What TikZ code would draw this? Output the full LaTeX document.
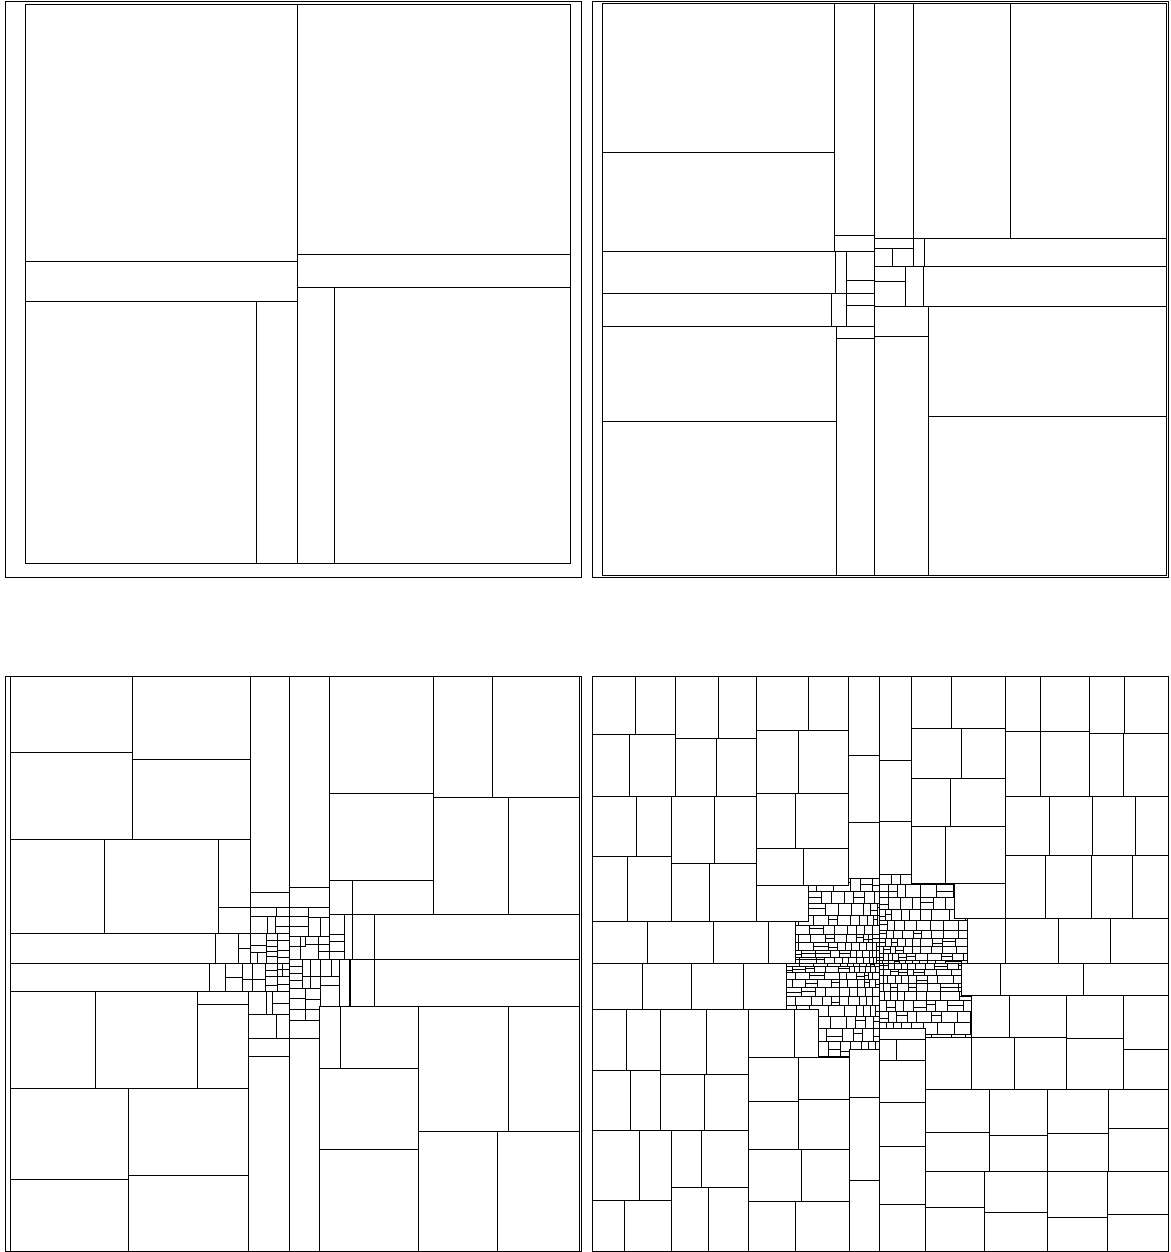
\documentclass[tikz,border=0pt]{standalone}
\newcommand{\gridrows}[3]{%
  \foreach \ya/\yb in {#3} {%
    \pgfmathsetmacro{\dy}{abs(0.5*(\ya+\yb)-790)}%
    \draw (#1,\ya) -- (#2,\ya);%
    \def\xx{#1}%
    \loop
      \pgfmathsetmacro{\ww}{(9+0.14*abs(\xx-775)+0.055*\dy)*(0.7+0.6*rnd)}%
      \pgfmathsetmacro{\xn}{((#2)-\xx-\ww<6)?(#2):(\xx+\ww)}%
      \pgfmathsetmacro{\spl}{rnd}%
      \ifdim\spl pt<0.28pt
        \pgfmathsetmacro{\ym}{\ya+(\yb-\ya)*(0.35+0.3*rnd)}%
        \draw (\xx,\ym) -- (\xn,\ym);%
      \fi
      \draw (\xn,\ya) -- (\xn,\yb);%
      \let\xx\xn
    \ifdim\xx pt<#2pt
    \repeat
  }}
\begin{document}
\begin{tikzpicture}[x=1pt,y=-1pt,line width=1pt]
\useasboundingbox (0,0) rectangle (1170,1252);
\fill[white] (0,0) rectangle (1170,1252);
% ---------------- top-left panel ----------------
\draw (5,1.5) rectangle (581,577);
\draw (25,4.5) rectangle (570,563);
\draw (297.7,4.5) -- (297.7,563);
\draw (25,261.5) -- (297.7,261.5);
\draw (25,301.8) -- (297.7,301.8);
\draw (256.4,301.8) -- (256.4,563);
\draw (297.7,254) -- (570,254);
\draw (297.7,287.9) -- (570,287.9);
\draw (334.5,287.9) -- (334.5,563);
% ---------------- top-right panel ----------------
\draw (592,2) rectangle (1168,577);
\draw (602,4) rectangle (1166,575);
\draw (834.1,4) -- (834.1,251.4);
\draw (874.8,4) -- (874.8,575);
\draw (913.3,4) -- (913.3,266.4);
\draw (1010.6,4) -- (1010.6,238.2);
\draw (835,251.4) -- (835,293.5);
\draw (846.5,251.4) -- (846.5,293.5);
\draw (831.6,293.5) -- (831.6,326.3);
\draw (846.7,293.5) -- (846.7,326.3);
\draw (836.2,326.3) -- (836.2,575);
\draw (892.7,248.4) -- (892.7,266.4);
\draw (924.9,238.2) -- (924.9,266.4);
\draw (905.1,266.4) -- (905.1,306.8);
\draw (923.1,266.4) -- (923.1,306.8);
\draw (928.4,306.8) -- (928.4,575);
\draw (602,152.4) -- (834.1,152.4);
\draw (602,251.4) -- (874.8,251.4);
\draw (602,293.5) -- (874.8,293.5);
\draw (602,326.3) -- (874.8,326.3);
\draw (602,421.8) -- (836.2,421.8);
\draw (834.1,235.1) -- (874.8,235.1);
\draw (846.5,280.2) -- (874.8,280.2);
\draw (846.7,305.3) -- (874.8,305.3);
\draw (836.2,338) -- (874.8,338);
\draw (874.8,238.2) -- (1166,238.2);
\draw (874.8,248.4) -- (913.3,248.4);
\draw (874.8,266.4) -- (1166,266.4);
\draw (874.8,281.2) -- (905.1,281.2);
\draw (874.8,306.8) -- (1166,306.8);
\draw (874.8,336.5) -- (928.4,336.5);
\draw (928.4,416.6) -- (1166,416.6);
% ---------------- bottom-left panel ----------------
\draw (5,676) rectangle (581,1251);
\draw (10.3,676) -- (10.3,1251);
\draw (579.5,676) -- (579.5,1251);
\begin{scope}[shift={(0,665)},xscale=0.3763,yscale=0.3744]
\draw (27,233) -- (352,233);
\draw (352,252) -- (664,252);
\draw (352,30) -- (352,467);
\draw (27,467) -- (664,467);
\draw (664.5,30) -- (664.5,548);
\draw (768,30) -- (768,1564);
\draw (875,30) -- (875,667);
\draw (1153,30) -- (1153,667);
\draw (875,342) -- (1153,342);
\draw (875,575) -- (1153,575);
\draw (937,575) -- (937,667);
\draw (1308,30) -- (1308,353);
\draw (1153,353) -- (1540,353);
\draw (1352,353) -- (1352,667);
\draw (875,667) -- (1540,667);
\draw (278,467) -- (278,717);
\draw (580,467) -- (580,560);
\draw (27,717) -- (664,717);
\draw (27,797) -- (505,797);
\draw (27,873) -- (505,873);
\draw (994,667) -- (994,911);
\draw (930,787) -- (1540,787);
\draw (930,787) -- (930,911);
\draw (850,911) -- (1540,911);
\draw (253,873) -- (253,1130);
\draw (524,873) -- (524,1130);
\draw (524,907) -- (660,907);
\draw (660,873) -- (660,1564);
\draw (27,1130) -- (660,1130);
\draw (342,1130) -- (342,1564);
\draw (27,1373) -- (342,1373);
\draw (342,1363) -- (660,1363);
\draw (850,911) -- (850,1564);
\draw (906,911) -- (906,1078);
\draw (850,1078) -- (1113,1078);
\draw (1113,911) -- (1113,1564);
\draw (850,1295) -- (1113,1295);
\draw (1352,911) -- (1352,1247);
\draw (1113,1247) -- (1540,1247);
\draw (1323,1247) -- (1323,1564);
\end{scope}
\begin{scope}[shift={(190,870)},xscale=0.33333,yscale=0.33333,line width=0.9pt]
\draw (85,0) -- (85,190);
\draw (180,0) -- (180,280);
\draw (85,112) -- (180,112);
\draw (180,68) -- (297,68);
\draw (180,112) -- (297,112);
\draw (180,140) -- (297,140);
\draw (260,112) -- (260,140);
\draw (232,140) -- (232,190);
\draw (255,140) -- (255,190);
\draw (255,168) -- (297,168);
\draw (145,190) -- (297,190);
\draw (75,190) -- (75,280);
\draw (145,190) -- (145,280);
\draw (145,235) -- (180,235);
\draw (180,225) -- (228,225);
\draw (180,248) -- (228,248);
\draw (203,248) -- (203,280);
\draw (228,190) -- (228,280);
\draw (262,190) -- (262,280);
\draw (228,212) -- (262,212);
\draw (228,228) -- (262,228);
\draw (228,243) -- (262,243);
\draw (228,258) -- (262,258);
\draw (262,212) -- (297,212);
\draw (262,240) -- (297,240);
\draw (262,262) -- (297,262);
\draw (0,280) -- (297,280);
\foreach \xv in {57,105,157,187,225,262} {\draw (\xv,280) -- (\xv,365);}
\draw (105,323) -- (157,323);
\draw (157,328) -- (187,328);
\draw (187,327) -- (225,327);
\draw (225,300) -- (262,300);
\draw (225,320) -- (262,320);
\draw (225,345) -- (262,345);
\draw (262,297) -- (297,297);
\draw (262,320) -- (297,320);
\draw (262,343) -- (297,343);
\draw (277,280) -- (277,320);
\draw (0,365) -- (297,365);
\draw (297,53) -- (418,53);
\draw (297,113) -- (418,113);
\draw (355,113) -- (355,200);
\draw (297,140) -- (355,140);
\draw (355,143) -- (418,143);
\draw (390,143) -- (390,200);
\draw (297,168) -- (355,168);
\draw (297,200) -- (418,200);
\draw (330,200) -- (330,268);
\draw (347,200) -- (347,230);
\draw (297,230) -- (347,230);
\draw (385,200) -- (385,268);
\draw (347,222) -- (418,222);
\draw (385,245) -- (418,245);
\draw (297,268) -- (600,268);
\draw (297,290) -- (337,290);
\draw (297,310) -- (337,310);
\draw (297,332) -- (337,332);
\draw (337,268) -- (337,355);
\draw (360,268) -- (360,355);
\draw (390,268) -- (390,410);
\draw (425,268) -- (425,318);
\draw (447,268) -- (447,410);
\draw (337,318) -- (447,318);
\draw (297,355) -- (390,355);
\draw (390,345) -- (447,345);
\draw (480,268) -- (480,410);
\draw (345,355) -- (345,452);
\draw (297,385) -- (345,385);
\draw (345,388) -- (390,388);
\draw (297,418) -- (390,418);
\draw (297,452) -- (390,452);
\draw (297,505) -- (390,505);
\draw (390,410) -- (600,410);
\draw (418,134) -- (418,268);
\draw (463,134) -- (463,268);
\draw (488,134) -- (488,268);
\draw (418,193) -- (463,193);
\draw (418,213) -- (463,213);
\draw (418,243) -- (463,243);
\draw (228,365) -- (228,432);
\draw (247,365) -- (247,432);
\draw (247,400) -- (297,400);
\draw (175,432) -- (297,432);
\draw (260,432) -- (260,505);
\draw (175,505) -- (297,505);
\draw (175,560) -- (297,560);
\end{scope}
% ---------------- bottom-right panel ----------------
\draw (592,676) rectangle (1168,1251);
\begin{scope}[shift={(585,665)},xscale=0.3731,yscale=0.3744]
\begin{scope}[line width=0.85pt]
\clip (565,685) -- (600,685) -- (600,590) -- (705,590) -- (705,570) -- (790,570) -- (790,560) -- (875,560) -- (875,583) -- (990,583) -- (990,678) -- (1025,678) -- (1025,796) -- (1010,796) -- (1010,882) -- (1035,882) -- (1035,995) -- (912,995) -- (912,972) -- (790,972) -- (790,1028) -- (708,1028) -- (708,1047) -- (625,1047) -- (625,920) -- (540,920) -- (540,796) -- (565,796) -- cycle;
\pgfmathsetseed{4242}
\gridrows{520}{790}{524/566,566/604,604/638,638/668,668/696,696/720,720/742,742/762,762/780,780/796}
\gridrows{790}{1045}{545/585,585/621,621/653,653/682,682/708,708/731,731/752,752/771,771/788,788/796}
\gridrows{520}{790}{796/804,804/821,821/840,840/861,861/884,884/910,910/938,938/970,970/1006,1006/1046,1046/1090}
\gridrows{790}{1045}{796/812,812/830,830/850,850/872,872/896,896/924,924/954,954/988,988/1026,1026/1068}
\end{scope}
\draw (565,685) -- (600,685) -- (600,590) -- (705,590) -- (705,570) -- (790,570) -- (790,560) -- (875,560) -- (875,583) -- (990,583) -- (990,678) -- (1025,678) -- (1025,796) -- (1010,796) -- (1010,882) -- (1035,882) -- (1035,995) -- (912,995) -- (912,972) -- (790,972) -- (790,1028) -- (708,1028) -- (708,1047) -- (625,1047) -- (625,920) -- (540,920) -- (540,796) -- (565,796) -- cycle;
% top-left block
\draw (135,30) -- (135,185);
\draw (243,30) -- (243,350);
\draw (357,30) -- (357,195);
\draw (20,185) -- (243,185);
\draw (243,195) -- (460,195);
\draw (120,185) -- (120,350);
\draw (352,195) -- (352,350);
\draw (20,350) -- (460,350);
\draw (138,350) -- (138,512);
\draw (232,350) -- (232,685);
\draw (347,350) -- (347,530);
\draw (20,512) -- (232,512);
\draw (232,530) -- (460,530);
\draw (115,512) -- (115,685);
\draw (333,530) -- (333,685);
\draw (20,685) -- (565,685);
\draw (460,30) -- (460,685);
% column 460-705
\draw (599,30) -- (599,175);
\draw (460,175) -- (705,175);
\draw (572,175) -- (572,342);
\draw (460,342) -- (705,342);
\draw (563,342) -- (563,490);
\draw (460,490) -- (705,490);
\draw (585,490) -- (585,590);
\draw (460,590) -- (705,590);
\draw (705,30) -- (705,570);
% column 705-790
\draw (705,243) -- (790,243);
\draw (705,420) -- (790,420);
\draw (790,30) -- (790,1564);
% column 790-875
\draw (790,255) -- (875,255);
\draw (790,418) -- (875,418);
\draw (875,30) -- (875,583);
% block 875-1127
\draw (983,30) -- (983,170);
\draw (875,170) -- (1127,170);
\draw (1008,170) -- (1008,302);
\draw (875,302) -- (1127,302);
\draw (980,302) -- (980,430);
\draw (875,430) -- (1127,430);
\draw (965,430) -- (965,583);
\draw (875,583) -- (1127,583);
\draw (1127,30) -- (1127,796);
% block 1127-1562
\draw (1222,30) -- (1222,352);
\draw (1352,30) -- (1352,352);
\draw (1447,30) -- (1447,183);
\draw (1442,183) -- (1442,352);
\draw (1127,178) -- (1352,178);
\draw (1352,183) -- (1562,183);
\draw (1127,352) -- (1562,352);
\draw (1245,352) -- (1245,510);
\draw (1360,352) -- (1360,510);
\draw (1475,352) -- (1475,510);
\draw (1127,510) -- (1562,510);
\draw (1235,510) -- (1235,678);
\draw (1358,510) -- (1358,678);
\draw (1468,510) -- (1468,678);
\draw (990,678) -- (1562,678);
% right bands
\draw (1268,678) -- (1268,796);
\draw (1408,678) -- (1408,796);
\draw (20,796) -- (1562,796);
\draw (1113,796) -- (1113,882);
\draw (1335,796) -- (1335,882);
\draw (1010,882) -- (1562,882);
% left bands
\draw (167,685) -- (167,796);
\draw (345,685) -- (345,796);
\draw (493,685) -- (493,796);
\draw (155,796) -- (155,920);
\draw (285,796) -- (285,920);
\draw (425,796) -- (425,920);
\draw (20,920) -- (625,920);
% bottom-left block
\draw (110,920) -- (110,1083);
\draw (203,920) -- (203,1243);
\draw (325,920) -- (325,1095);
\draw (20,1083) -- (203,1083);
\draw (203,1095) -- (437,1095);
\draw (122,1083) -- (122,1243);
\draw (320,1095) -- (320,1243);
\draw (20,1243) -- (437,1243);
\draw (145,1243) -- (145,1430);
\draw (233,1243) -- (233,1564);
\draw (312,1243) -- (312,1395);
\draw (20,1430) -- (233,1430);
\draw (233,1395) -- (437,1395);
\draw (107,1430) -- (107,1564);
\draw (330,1395) -- (330,1564);
\draw (437,920) -- (437,1564);
% column 437-708
\draw (562,920) -- (562,1047);
\draw (437,1047) -- (708,1047);
\draw (573,1047) -- (573,1295);
\draw (437,1165) -- (573,1165);
\draw (573,1160) -- (708,1160);
\draw (437,1295) -- (708,1295);
\draw (580,1295) -- (580,1433);
\draw (437,1433) -- (708,1433);
\draw (563,1433) -- (563,1564);
\draw (708,1028) -- (708,1564);
% column 708-790
\draw (708,1155) -- (790,1155);
\draw (708,1378) -- (790,1378);
% column 790-912
\draw (790,1000) -- (912,1000);
\draw (835,1000) -- (835,1055);
\draw (790,1055) -- (912,1055);
\draw (790,1168) -- (912,1168);
\draw (790,1285) -- (912,1285);
\draw (790,1440) -- (912,1440);
\draw (912,972) -- (912,1564);
% bottom-right block
\draw (1035,882) -- (1035,1135);
\draw (1137,882) -- (1137,995);
\draw (1290,882) -- (1290,1135);
\draw (1442,882) -- (1442,1135);
\draw (1035,995) -- (1290,995);
\draw (1290,997) -- (1442,997);
\draw (1442,1027) -- (1562,1027);
\draw (1152,995) -- (1152,1135);
\draw (912,1135) -- (1562,1135);
\draw (1083,1135) -- (1083,1352);
\draw (1240,1135) -- (1240,1564);
\draw (1402,1135) -- (1402,1352);
\draw (912,1248) -- (1083,1248);
\draw (1083,1257) -- (1240,1257);
\draw (1240,1250) -- (1402,1250);
\draw (1402,1237) -- (1562,1237);
\draw (912,1352) -- (1562,1352);
\draw (1070,1352) -- (1070,1564);
\draw (1400,1352) -- (1400,1564);
\draw (912,1448) -- (1070,1448);
\draw (1070,1463) -- (1240,1463);
\draw (1240,1475) -- (1400,1475);
\draw (1400,1468) -- (1562,1468);
\end{scope}
\end{tikzpicture}
\end{document}
